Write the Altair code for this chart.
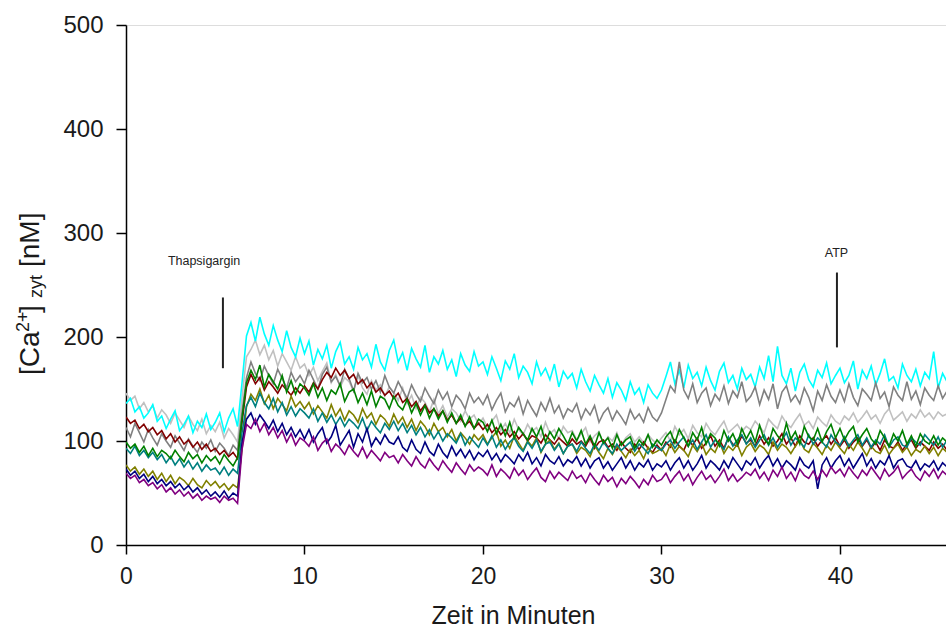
import altair as alt
import pandas as pd

# Cytosolic Ca2+ traces of nine cells, sampled every 0.25 min
STEP = 0.25
FONT = "Liberation Sans"

cyan = [
    136, 141, 128, 133, 122, 127, 135, 119, 124, 112, 121, 129, 110, 116, 124, 108, 119, 113, 126, 111,
    118, 127, 109, 122, 131, 114, 156, 201, 214, 196, 219, 203, 192, 211, 197, 186, 206, 190, 181, 199,
    184, 196, 173, 188, 179, 192, 170, 186, 195, 174, 181, 169, 190, 178, 184, 171, 193, 176, 168, 187,
    197, 176, 185, 168, 189, 179, 171, 192, 166, 181, 174, 187, 169, 178, 162, 184, 173, 167, 186, 172,
    176, 164, 181, 170, 158, 177, 169, 184, 161, 172, 166, 155, 176, 163, 170, 159, 174, 152, 167, 160,
    165, 151, 169, 157, 148, 163, 154, 146, 160, 142, 156, 149, 139, 157, 145, 151, 137, 154, 146, 141,
    149, 162, 176, 155, 168, 151, 173, 160, 166, 153, 171, 158, 149, 167, 175, 156, 163, 150, 170, 159,
    164, 152, 171, 160, 182, 157, 191, 163, 155, 170, 148, 166, 174, 159, 152, 168, 161, 175, 155, 163,
    170, 156, 163, 177, 150, 168, 160, 172, 154, 165, 179, 158, 162, 151, 174, 163, 157, 169, 153, 166,
    160, 186, 151, 165, 157,
]
silver = [
    146, 139, 143, 131, 137, 128, 134, 122, 130, 125, 117, 127, 120, 113, 124, 116, 110, 121, 107, 115,
    109, 118, 103, 112, 106, 99, 142, 181, 188, 197, 183, 192, 178, 187, 172, 184, 176, 168, 181, 170,
    174, 163, 171, 158, 167, 175, 156, 164, 152, 161, 157, 148, 163, 151, 145, 158, 149, 154, 143, 152,
    147, 139, 151, 136, 144, 131, 142, 137, 128, 140, 126, 134, 123, 131, 127, 119, 129, 121, 125, 116,
    122, 113, 119, 125, 110, 117, 108, 121, 111, 106, 116, 109, 113, 104, 118, 107, 111, 102, 114, 108,
    110, 101, 107, 113, 99, 105, 109, 97, 104, 100, 108, 96, 103, 107, 99, 104, 98, 106, 101, 97,
    103, 108, 100, 114, 106, 111, 102, 115, 108, 104, 117, 110, 106, 113, 119, 108, 112, 116, 109, 114,
    111, 119, 114, 108, 121, 116, 112, 124, 117, 113, 120, 126, 115, 119, 112, 123, 118, 114, 125, 119,
    116, 124, 120, 127, 118, 123, 129, 121, 125, 117, 126, 131, 120, 124, 128, 119, 126, 122, 130, 123,
    127, 121, 128, 124, 126,
]
gray = [
    113, 104, 117, 108, 99, 111, 103, 96, 107, 100, 94, 105, 98, 91, 102, 95, 89, 99, 93, 101,
    90, 98, 93, 86, 96, 91, 128, 161, 176, 165, 158, 172, 163, 155, 169, 160, 151, 166, 157, 163,
    155, 168, 159, 150, 164, 171, 157, 162, 153, 169, 160, 148, 165, 156, 161, 150, 158, 147, 163, 152,
    146, 157, 149, 141, 154, 145, 138, 151, 143, 136, 149, 140, 147, 133, 144, 139, 131, 146, 137, 142,
    135, 144, 130, 139, 146, 128, 137, 133, 142, 126, 139, 131, 124, 137, 129, 141, 127, 134, 122, 131,
    128, 136, 121, 131, 125, 134, 118, 127, 132, 120, 129, 123, 116, 130, 121, 126, 118, 132, 123, 119,
    127, 140, 153, 147, 176, 149, 141, 155, 137, 146, 151, 134, 145, 139, 153, 136, 148, 142, 157, 138,
    143, 152, 135, 149, 140, 155, 131, 147, 153, 138, 144, 136, 151, 142, 129, 148, 139, 154, 143, 137,
    149, 138, 155, 142, 134, 150, 145, 139, 156, 141, 147, 133, 152, 144, 139, 157, 140, 148, 135, 151,
    144, 139, 153, 141, 148,
]
maroon = [
    123, 117, 120, 112, 116, 109, 113, 106, 110, 102, 107, 99, 104, 97, 101, 94, 99, 92, 97, 90,
    93, 87, 91, 85, 89, 83, 118, 152, 164, 155, 161, 149, 157, 152, 146, 154, 149, 144, 151, 146,
    153, 147, 156, 150, 159, 166, 161, 170, 163, 168, 160, 164, 155, 159, 151, 156, 147, 151, 144, 148,
    141, 146, 137, 141, 133, 138, 129, 135, 127, 131, 124, 129, 120, 125, 117, 122, 115, 119, 112, 117,
    111, 116, 108, 113, 106, 111, 104, 109, 102, 107, 100, 105, 103, 98, 106, 101, 97, 103, 99, 95,
    102, 97, 100, 95, 103, 93, 99, 101, 94, 97, 91, 99, 93, 89, 97, 92, 99, 93, 89, 96,
    91, 99, 94, 101, 95, 91, 101, 96, 103, 93, 98, 105, 95, 101, 93, 103, 97, 95, 105, 98,
    101, 95, 105, 97, 103, 95, 100, 107, 97, 103, 95, 105, 99, 97, 103, 95, 101, 105, 97, 103,
    95, 101, 93, 99, 103, 95, 101, 93, 99, 91, 101, 95, 93, 99, 91, 97, 101, 93, 99, 95,
    91, 99, 93, 97, 91,
]
olive = [
    77, 71, 75, 68, 73, 66, 71, 63, 69, 61, 67, 59, 65, 62, 57, 64, 58, 55, 62, 57,
    61, 55, 59, 53, 58, 55, 92, 133, 145, 139, 150, 136, 144, 131, 141, 135, 129, 143, 133, 138,
    131, 137, 126, 134, 128, 122, 135, 124, 131, 120, 129, 125, 118, 131, 122, 127, 116, 125, 121, 114,
    126, 117, 123, 113, 121, 110, 119, 114, 106, 117, 109, 113, 104, 111, 100, 108, 103, 97, 106, 101,
    106, 97, 103, 109, 95, 101, 93, 105, 98, 91, 100, 95, 103, 89, 97, 101, 92, 98, 88, 95,
    97, 88, 94, 91, 85, 96, 89, 83, 93, 87, 95, 90, 84, 92, 86, 91, 83, 94, 88, 90,
    93, 86, 97, 89, 95, 91, 85, 96, 90, 98, 87, 93, 89, 99, 88, 95, 91, 97, 86, 94,
    98, 90, 96, 93, 87, 99, 91, 97, 94, 88, 95, 101, 92, 89, 98, 93, 87, 96, 91, 99,
    93, 88, 97, 91, 99, 93, 86, 95, 90, 88, 96, 87, 93, 97, 89, 94, 86, 92, 89, 95,
    88, 94, 86, 93, 89,
]
teal = [
    93, 88, 95, 86, 91, 84, 89, 82, 87, 79, 85, 77, 83, 75, 81, 73, 79, 71, 77, 72,
    74, 68, 75, 67, 73, 69, 108, 134, 142, 133, 146, 137, 131, 141, 128, 137, 125, 133, 124, 131,
    127, 122, 131, 119, 127, 118, 125, 116, 123, 114, 121, 117, 112, 122, 110, 119, 113, 108, 117, 111,
    119, 110, 117, 108, 115, 106, 113, 104, 111, 102, 109, 100, 107, 103, 98, 107, 96, 104, 99, 94,
    103, 96, 105, 94, 101, 92, 99, 103, 95, 90, 99, 93, 101, 90, 97, 99, 91, 97, 88, 95,
    97, 90, 99, 93, 88, 97, 91, 99, 93, 88, 97, 91, 95, 99, 90, 97, 93, 88, 97, 94,
    91, 97, 101, 93, 99, 104, 95, 101, 92, 99, 106, 94, 101, 97, 92, 104, 95, 101, 106, 97,
    103, 94, 101, 106, 96, 103, 94, 101, 108, 96, 103, 99, 94, 106, 97, 103, 99, 94, 106, 99,
    96, 104, 95, 101, 106, 96, 103, 94, 101, 97, 106, 94, 101, 104, 96, 94, 103, 99, 96, 106,
    101, 96, 104, 94, 101,
]
green = [
    99, 93, 97, 89, 95, 86, 93, 85, 91, 88, 83, 91, 85, 80, 89, 83, 87, 79, 86, 81,
    85, 78, 87, 81, 76, 84, 122, 156, 168, 159, 173, 152, 164, 157, 150, 163, 147, 158, 145, 155,
    151, 144, 155, 142, 151, 139, 149, 145, 155, 138, 147, 150, 137, 146, 135, 148, 133, 143, 140, 131,
    143, 134, 130, 140, 127, 136, 125, 134, 122, 131, 121, 129, 118, 127, 117, 125, 114, 123, 112, 121,
    118, 109, 120, 107, 116, 105, 118, 103, 113, 107, 101, 112, 104, 114, 99, 109, 102, 112, 105, 97,
    108, 100, 110, 97, 105, 95, 108, 98, 103, 93, 106, 96, 101, 104, 93, 101, 96, 106, 94, 101,
    96, 104, 109, 98, 111, 103, 95, 108, 101, 113, 97, 107, 103, 95, 110, 100, 107, 97, 112, 102,
    110, 99, 115, 102, 97, 112, 105, 100, 117, 102, 109, 97, 114, 104, 101, 112, 99, 109, 116, 103,
    112, 101, 109, 114, 99, 106, 112, 102, 97, 110, 103, 95, 107, 100, 110, 97, 105, 95, 107, 100,
    97, 105, 96, 103, 99,
]
navy = [
    73, 67, 71, 64, 68, 61, 66, 59, 63, 57, 61, 55, 59, 53, 57, 51, 55, 49, 53, 47,
    51, 46, 52, 45, 50, 47, 98, 121, 127, 116, 125, 119, 112, 120, 109, 117, 106, 113, 104, 111,
    102, 111, 99, 107, 113, 98, 104, 115, 96, 103, 110, 94, 107, 99, 112, 95, 103, 97, 106, 99,
    97, 104, 94, 90, 101, 92, 88, 99, 90, 86, 97, 89, 84, 95, 86, 92, 84, 91, 82, 89,
    85, 91, 82, 88, 80, 87, 83, 78, 87, 81, 89, 78, 84, 76, 87, 81, 78, 85, 76, 82,
    79, 85, 76, 83, 74, 81, 84, 74, 80, 72, 78, 84, 74, 81, 72, 79, 75, 82, 72, 78,
    75, 81, 72, 79, 84, 74, 81, 72, 78, 86, 74, 81, 77, 72, 81, 74, 84, 78, 72, 81,
    77, 84, 74, 81, 86, 76, 83, 74, 81, 77, 72, 84, 77, 74, 81, 54, 77, 84, 74, 81,
    86, 76, 83, 74, 81, 88, 76, 83, 74, 81, 77, 86, 74, 81, 83, 76, 74, 81, 72, 78,
    75, 81, 72, 79, 75,
]
purple = [
    69, 64, 67, 60, 63, 57, 60, 54, 58, 51, 55, 49, 53, 47, 51, 45, 49, 43, 47, 44,
    46, 41, 47, 43, 45, 40, 92, 116, 112, 121, 109, 117, 106, 113, 103, 110, 99, 107, 96, 103,
    100, 95, 104, 91, 98, 102, 90, 97, 93, 87, 96, 90, 85, 94, 84, 91, 86, 81, 89, 84,
    86, 79, 87, 81, 76, 85, 78, 74, 83, 77, 72, 81, 75, 70, 79, 73, 68, 77, 71, 75,
    72, 67, 77, 66, 73, 69, 64, 74, 67, 72, 63, 69, 74, 65, 61, 71, 64, 70, 66, 62,
    71, 64, 67, 60, 69, 63, 58, 67, 61, 65, 56, 64, 59, 66, 61, 55, 63, 58, 67, 61,
    63, 69, 60, 66, 71, 62, 68, 58, 65, 71, 63, 67, 60, 66, 73, 62, 68, 61, 65, 70,
    67, 73, 64, 70, 62, 72, 66, 75, 64, 70, 62, 73, 67, 64, 71, 63, 72, 66, 75, 69,
    73, 66, 75, 69, 64, 72, 67, 75, 69, 63, 73, 66, 70, 76, 64, 69, 73, 66, 62, 71,
    66, 73, 64, 71, 67,
]

# drawing order (first = back) and colours
trace_names = ["silver", "cyan", "gray", "maroon", "olive", "teal", "green", "navy", "purple"]
trace_values = [silver, cyan, gray, maroon, olive, teal, green, navy, purple]
trace_colors = ["#C0C0C0", "#00FFFF", "#808080", "#800000", "#808000",
                "#008080", "#008000", "#000080", "#800080"]

# substance additions: label, time of addition, label level, marker span
event_labels = ["Thapsigargin", "ATP"]
event_label_time = [4.37, 39.8]
event_label_level = [269, 277]
event_time = [5.43, 39.83]
event_low = [170, 190]
event_high = [238, 262]

rows = []
for name, vals in zip(trace_names, trace_values):
    for i, v in enumerate(vals):
        rows.append({"trace": name, "t": i * STEP, "ca": v})
traces = pd.DataFrame(rows)

x_scale = alt.Scale(domain=[0, 45.94], nice=False, zero=False)
y_scale = alt.Scale(domain=[0, 500], nice=False)

lines = alt.Chart(traces).mark_line(strokeWidth=1.6, clip=True).encode(
    x=alt.X("t:Q", scale=x_scale,
            axis=alt.Axis(values=[0, 10, 20, 30, 40], title="Zeit in Minuten",
                          titleX=387, titleY=78, titleAlign="center",
                          titleBaseline="alphabetic", titleFontSize=25,
                          titleFontWeight="normal", titleFont=FONT, titleColor="#1a1a1a",
                          labelFontSize=23, labelFont=FONT, labelColor="#1a1a1a",
                          labelPadding=11, tickSize=9, tickColor="#000",
                          domainColor="#000", domainWidth=1.5, tickWidth=1.5,
                          grid=False, labelFlush=False)),
    y=alt.Y("ca:Q", scale=y_scale,
            axis=alt.Axis(values=[0, 100, 200, 300, 400, 500], title=None,
                          labelFontSize=24, labelFont=FONT, labelColor="#1a1a1a",
                          labelPadding=13, tickSize=10, tickColor="#000",
                          domainColor="#000", domainWidth=1.5, tickWidth=1.5,
                          grid=False)),
    color=alt.Color("trace:N", scale=alt.Scale(domain=trace_names, range=trace_colors),
                    legend=None),
    detail="trace:N",
)

events = pd.DataFrame({
    "label": event_labels, "lt": event_label_time, "ly": event_label_level,
    "t": event_time, "lo": event_low, "hi": event_high,
})

markers = alt.Chart(events).mark_rule(color="#222", strokeWidth=2).encode(
    x="t:Q", y="lo:Q", y2="hi:Q",
)
event_text = alt.Chart(events).mark_text(
    font=FONT, fontSize=12.5, color="#222", align="center", baseline="alphabetic",
).encode(x="lt:Q", y="ly:Q", text="label:N")

# y-axis title "[Ca2+]zyt [nM]" with superscript and subscript, read bottom to top
ylab_text = ["[Ca", "2+", "]", "zyt", "[nM]"]
ylab_size = [28, 18, 28, 18, 28]
ylab_base = [-87, -97, -87, -84, -87]
ylab_start = [350, 307, 288, 273, 242]

ylab_layers = []
for txt, size, bx, by in zip(ylab_text, ylab_size, ylab_base, ylab_start):
    ylab_layers.append(
        alt.Chart(pd.DataFrame({"s": [txt]})).mark_text(
            font=FONT, fontSize=size, color="#1a1a1a", angle=270,
            align="left", baseline="alphabetic",
        ).encode(text="s:N", x=alt.value(bx), y=alt.value(by))
    )

chart = alt.layer(lines, markers, event_text, *ylab_layers).properties(
    width=820, height=520,
    autosize=alt.AutoSizeParams(type="none"),
    padding={"left": 126, "top": 25, "right": 0, "bottom": 89},
).configure_view(stroke=None).configure(background="white")

chart.save("out.html", embed_options={"renderer": "svg", "actions": False})
